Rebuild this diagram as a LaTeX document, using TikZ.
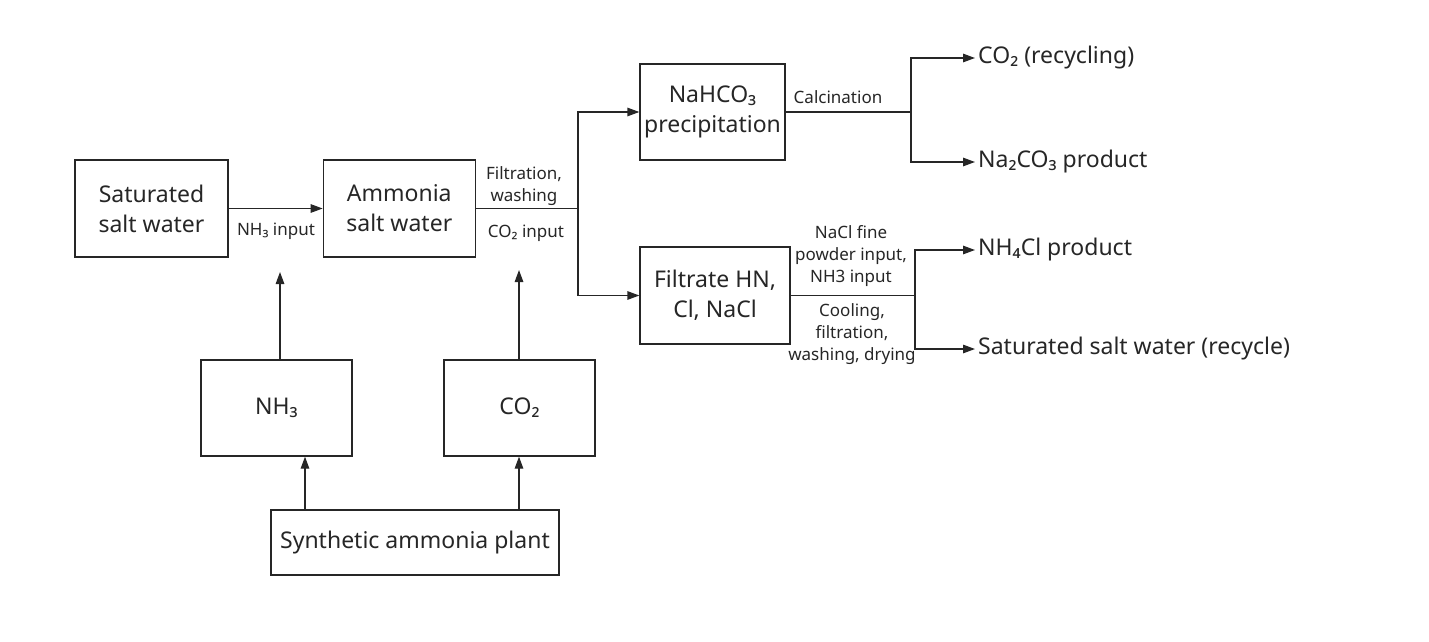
\documentclass[tikz,border=0pt]{standalone}
\usepackage{fontspec}
\setmainfont{Noto Sans}
\usetikzlibrary{positioning,arrows.meta}

\colorlet{ink}{black!85}

\tikzset{
  procbox/.style={draw=ink, text=ink, line width=1.3pt, align=center, inner sep=0pt,
                  font=\fontsize{23}{30}\selectfont},
  outtext/.style={anchor=west, text=ink, inner sep=3pt, font=\fontsize{23}{26}\selectfont},
  steptext/.style={align=center, text=ink, inner sep=0pt, font=\fontsize{17}{22}\selectfont},
  flow/.style={draw=ink, line width=1.3pt, -{Triangle[length=12pt,width=8.5pt]}},
  pipe/.style={draw=ink, line width=1.3pt}
}

\begin{document}
\begin{tikzpicture}[x=1pt, y=-1pt]
  \useasboundingbox (0,0) rectangle (1429,642);

  % process boxes
  \node [procbox, minimum width=153pt, minimum height=97pt] (salt) at (151.5,208.5) {Saturated\\salt water};
  \node [procbox, minimum width=152pt, minimum height=97pt, right=94pt of salt] (ammsalt) {Ammonia\\salt water};
  \node [procbox, minimum width=145pt, minimum height=96pt] (nahco) at (712.5,112) {NaHCO₃\\precipitation};
  \node [procbox, minimum width=150pt, minimum height=97pt] (filtrate) at (715,295.5) {Filtrate HN,\\Cl, NaCl};
  \node [procbox, minimum width=151pt, minimum height=96pt] (nh3) at (276.5,408) {NH₃};
  \node [procbox, minimum width=151pt, minimum height=96pt] (co2) at (519.5,408) {CO₂};
  \node [procbox, minimum width=288pt, minimum height=65pt] (plant) at (415,542.5) {Synthetic ammonia plant};

  % products
  \node [outtext] (co2out) at (975,58) {CO₂ (recycling)};
  \node [outtext] (sodaout) at (975,162) {Na₂CO₃ product};
  \node [outtext] (nh4out) at (975,250) {NH₄Cl product};
  \node [outtext] (brineout) at (975,349) {Saturated salt water (recycle)};

  % junctions and free ends
  \coordinate (nh3in) at (280,272);
  \coordinate (co2in) at (519,270);
  \coordinate (nh3up) at (305,0);
  \coordinate (split1) at (578,208.5);
  \coordinate (split2) at (911,112);
  \coordinate (split3) at (915,295.5);

  \draw [flow] (salt) -- (ammsalt);
  \draw [flow] (nh3in |- nh3.north) -- (nh3in);
  \draw [flow] (co2in |- co2.north) -- (co2in);
  \draw [flow] (plant.north -| nh3up) -- (nh3.south -| nh3up);
  \draw [flow] (plant.north -| co2in) -- (co2.south -| co2in);

  \draw [pipe] (ammsalt) -- (split1);
  \draw [flow] (split1) |- (nahco);
  \draw [flow] (split1) |- (filtrate);

  \draw [pipe] (nahco) -- (split2);
  \draw [flow] (split2) |- (co2out.west);
  \draw [flow] (split2) |- (sodaout.west);

  \draw [pipe] (filtrate) -- (split3);
  \draw [flow] (split3) |- (nh4out.west);
  \draw [flow] (split3) |- (brineout.west);

  % step labels
  \node [steptext] (lbl1) at (276,231) {NH₃ input};
  \node [steptext] (lbl2) at (524,186) {Filtration,\\washing};
  \node [steptext] (lbl3) at (526,233) {CO₂ input};
  \node [steptext] (lbl4) at (838,97) {Calcination};
  \node [steptext] (lbl5) at (851,256) {NaCl fine\\powder input,\\NH3 input};
  \node [steptext] (lbl6) at (852,334) {Cooling,\\filtration,\\washing, drying};
\end{tikzpicture}
\end{document}
